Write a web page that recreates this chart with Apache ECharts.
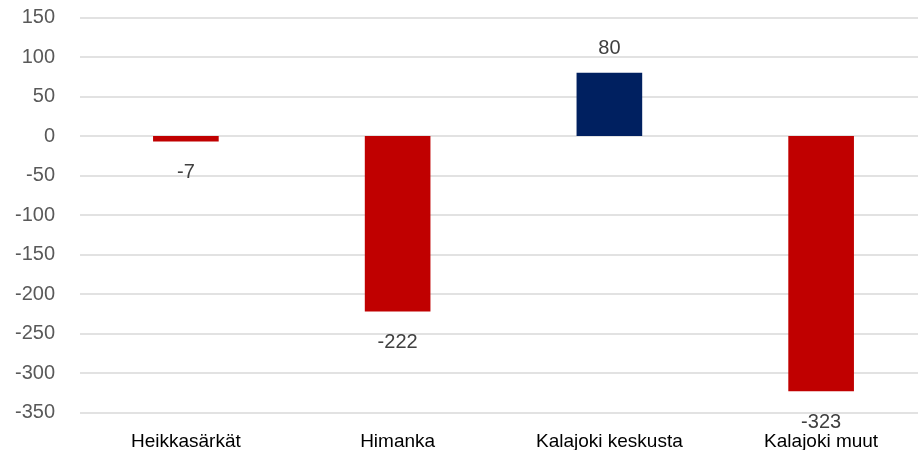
<!DOCTYPE html>
<html>
<head>
<meta charset="utf-8">
<script src="https://cdn.jsdelivr.net/npm/echarts@6/dist/echarts.min.js"></script>
<style>
    html, body { margin: 0; padding: 0; background: #fff; }
    #chart { width: 918px; height: 450px; }
</style>
</head>
<body>
<div id="chart"></div>
<script>
const categories = ["Heikkasärkät", "Himanka", "Kalajoki keskusta", "Kalajoki muut"]
const values = [-7, -222, 80, -323]
const yTicks = { min: -350, max: 150, interval: 50 }

const chart = echarts.init(document.getElementById("chart"))

let option = {
    animation: false,
    textStyle: { fontFamily: "Liberation Sans" },
    grid: {
        left: 80,
        width: 847,
        top: 17.5,
        bottom: 37.5,
        outerBoundsMode: "none",
    },
    xAxis: {
        type: "category",
        data: categories,
        axisLine: { show: false, onZero: false },
        axisTick: { show: false },
        axisLabel: {
            color: "#000",
            fontSize: 19,
            margin: 20,
        },
    },
    yAxis: {
        type: "value",
        min: yTicks.min,
        max: yTicks.max,
        interval: yTicks.interval,
        axisLine: { show: false },
        axisTick: { show: false },
        axisLabel: {
            color: "#595959",
            fontSize: 20,
            margin: 25,
        },
        splitLine: {
            lineStyle: { color: "#d9d9d9", width: 1.5 },
        },
    },
    series: [
        {
            type: "bar",
            barWidth: "31%",
            data: values.map((v) => ({
                value: v,
                itemStyle: { color: v < 0 ? "#C00000" : "#002060" },
                // negative bars get their label under the bar end
                label: v < 0 ? { position: "bottom", distance: 21 } : { position: "top", distance: 14 },
            })),
            label: {
                show: true,
                color: "#404040",
                fontSize: 20,
            },
        },
    ],
}

chart.setOption(option)
</script>
</body>
</html>
